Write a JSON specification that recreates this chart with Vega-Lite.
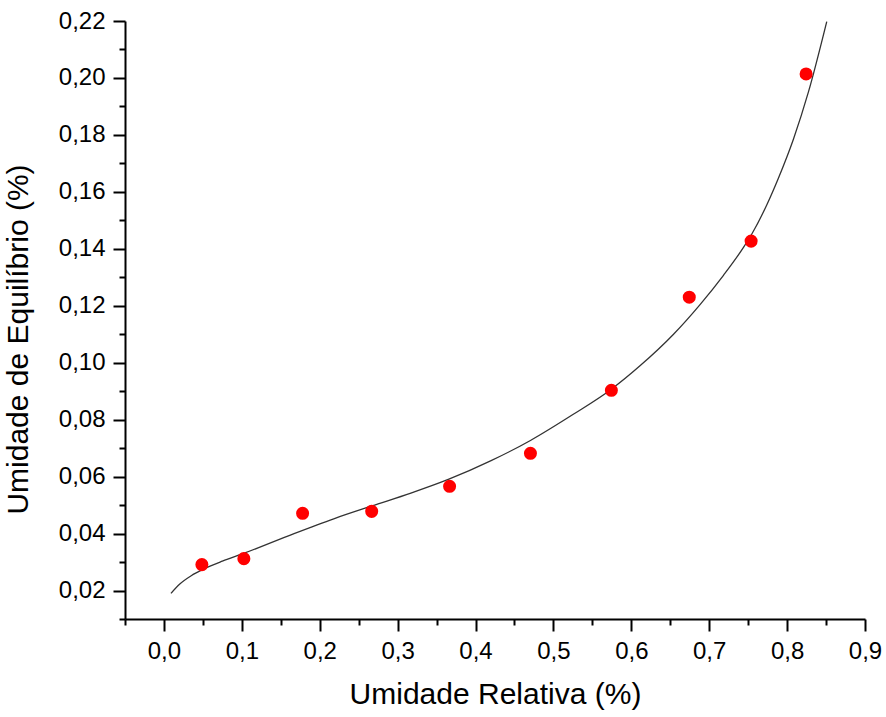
{
  "$schema": "https://vega.github.io/schema/vega-lite/v6.json",
  "autosize": "none",
  "width": 740,
  "height": 598,
  "padding": {"left": 125, "top": 21, "right": 21, "bottom": 98},
  "background": "white",
  "config": {
    "view": {"stroke": null},
    "font": "Liberation Sans",
    "locale": {"number": {"decimal": ",", "thousands": ".", "grouping": [3], "currency": ["", ""]}},
    "axis": {
      "domainColor": "black",
      "domainWidth": 2,
      "tickColor": "black",
      "tickWidth": 2,
      "labelColor": "black",
      "titleColor": "black",
      "labelFont": "Liberation Sans",
      "titleFont": "Liberation Sans",
      "labelFontSize": 24,
      "titleFontSize": 30,
      "titleFontWeight": "normal",
      "grid": false,
      "labelFlush": false,
      "labelOverlap": false
    }
  },
  "resolve": {"axis": {"x": "independent", "y": "independent"}},
  "datasets": {
    "points": [
      {"rh": 0.0487, "eq": 0.0291},
      {"rh": 0.1026, "eq": 0.0312},
      {"rh": 0.178, "eq": 0.0471},
      {"rh": 0.2667, "eq": 0.0478},
      {"rh": 0.3667, "eq": 0.0566},
      {"rh": 0.4705, "eq": 0.0682},
      {"rh": 0.5744, "eq": 0.0903},
      {"rh": 0.6744, "eq": 0.123},
      {"rh": 0.7538, "eq": 0.1427},
      {"rh": 0.8244, "eq": 0.2014}
    ],
    "fit": [
      {"rh": 0.009, "eq": 0.019},
      {"rh": 0.02, "eq": 0.0222},
      {"rh": 0.035, "eq": 0.0252},
      {"rh": 0.05, "eq": 0.0274},
      {"rh": 0.075, "eq": 0.0303},
      {"rh": 0.103, "eq": 0.0331},
      {"rh": 0.167, "eq": 0.04},
      {"rh": 0.218, "eq": 0.0452},
      {"rh": 0.267, "eq": 0.0497},
      {"rh": 0.317, "eq": 0.0542},
      {"rh": 0.365, "eq": 0.059},
      {"rh": 0.42, "eq": 0.0656},
      {"rh": 0.4705, "eq": 0.0727},
      {"rh": 0.525, "eq": 0.0818},
      {"rh": 0.5744, "eq": 0.0907},
      {"rh": 0.6115, "eq": 0.099},
      {"rh": 0.6542, "eq": 0.11},
      {"rh": 0.6885, "eq": 0.1205},
      {"rh": 0.7183, "eq": 0.1307},
      {"rh": 0.744, "eq": 0.1405},
      {"rh": 0.7547, "eq": 0.1452},
      {"rh": 0.774, "eq": 0.1555},
      {"rh": 0.7888, "eq": 0.1648},
      {"rh": 0.8081, "eq": 0.1785},
      {"rh": 0.8273, "eq": 0.195},
      {"rh": 0.8509, "eq": 0.2198}
    ]
  },
  "layer": [
    {
      "data": {"name": "fit"},
      "mark": {"type": "line", "color": "#333333", "strokeWidth": 1.3, "interpolate": "monotone"},
      "encoding": {
        "x": {
          "field": "rh", "type": "quantitative",
          "scale": {"domain": [-0.05, 0.9], "nice": false, "zero": false},
          "axis": {
            "orient": "bottom",
            "title": "Umidade Relativa (%)",
            "values": [0, 0.1, 0.2, 0.3, 0.4, 0.5, 0.6, 0.7, 0.8, 0.9],
            "format": ".1f",
            "tickSize": 12,
            "labelPadding": 8,
            "titlePadding": 16
          }
        },
        "y": {
          "field": "eq", "type": "quantitative",
          "scale": {"domain": [0.01, 0.22], "nice": false, "zero": false},
          "axis": {
            "orient": "left",
            "title": "Umidade de Equilíbrio (%)",
            "values": [0.02, 0.04, 0.06, 0.08, 0.1, 0.12, 0.14, 0.16, 0.18, 0.2, 0.22],
            "format": ".2f",
            "tickSize": 12,
            "labelPadding": 8,
            "titlePadding": 25,
            "titleY": 318
          }
        }
      }
    },
    {
      "data": {"name": "points"},
      "mark": {"type": "circle", "color": "#ff0000", "opacity": 1, "size": 170},
      "encoding": {
        "x": {
          "field": "rh", "type": "quantitative",
          "axis": {
            "orient": "bottom",
            "title": null,
            "labels": false,
            "domain": false,
            "values": [-0.05, 0.05, 0.15, 0.25, 0.35, 0.45, 0.55, 0.65, 0.75, 0.85],
            "tickSize": 6
          }
        },
        "y": {
          "field": "eq", "type": "quantitative",
          "axis": {
            "orient": "left",
            "title": null,
            "labels": false,
            "domain": false,
            "values": [0.01, 0.03, 0.05, 0.07, 0.09, 0.11, 0.13, 0.15, 0.17, 0.19, 0.21],
            "tickSize": 6
          }
        }
      }
    }
  ]
}
